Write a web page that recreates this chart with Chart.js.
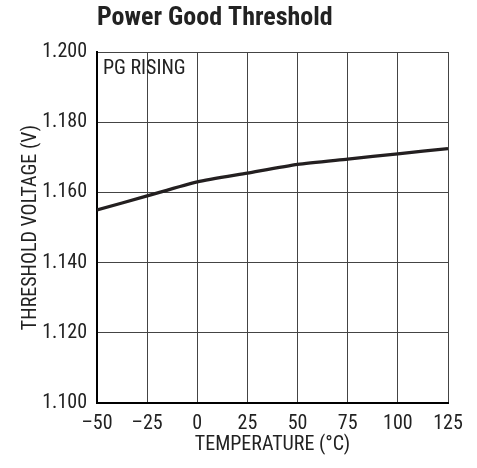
<!DOCTYPE html>
<html>
<head>
<meta charset="utf-8">
<script src="https://cdn.jsdelivr.net/npm/chart.js@4/dist/chart.umd.min.js"></script>
<style>
  html, body { margin: 0; padding: 0; background: #fff; }
  #wrap { width: 477px; height: 468px; position: relative; }
</style>
</head>
<body>
<div id="wrap"><canvas id="chart" width="477" height="468"></canvas></div>
<script>
const temps = [-50, -25, 0, 25, 50, 75, 100, 125];
const threshold = [1.155, 1.159, 1.163, 1.1655, 1.168, 1.1695, 1.171, 1.1725];
const xTicks = [-50, -25, 0, 25, 50, 75, 100, 125];
const yTicks = [1.100, 1.120, 1.140, 1.160, 1.180, 1.200];

const FONT = '"Liberation Sans Narrow", "Roboto Condensed", "Liberation Sans", sans-serif';

// title and PG RISING note, placed from the plot area
const notes = {
  id: 'notes',
  afterDraw(chart) {
    const { ctx, chartArea } = chart;
    ctx.save();
    ctx.fillStyle = '#222';
    ctx.textBaseline = 'middle';
    ctx.textAlign = 'left';
    ctx.font = 'bold 26px ' + FONT;
    ctx.fillText('Power Good Threshold', chartArea.left, 18);
    ctx.font = '20px ' + FONT;
    ctx.fillText('PG RISING', chartArea.left + 6, 69);
    ctx.restore();
  }
};

new Chart(document.getElementById('chart'), {
  type: 'line',
  data: {
    labels: temps,
    datasets: [{
      data: temps.map((t, i) => ({ x: t, y: threshold[i] })),
      borderColor: '#231f20',
      borderWidth: 3.2,
      pointRadius: 0,
      tension: 0.2,
      fill: false
    }]
  },
  options: {
    responsive: false,
    animation: false,
    layout: { padding: { top: 52, right: 29, left: 0, bottom: 0 } },
    plugins: { legend: { display: false }, tooltip: { enabled: false } },
    scales: {
      x: {
        type: 'linear',
        min: -50, max: 125,
        afterBuildTicks: s => { s.ticks = xTicks.map(v => ({ value: v })); },
        afterFit: s => { s.height = 65; },
        ticks: {
          color: '#222',
          font: { family: FONT, size: 20 },
          padding: 9,
          callback: v => String(v).replace('-', '\u2013')
        },
        grid: { color: '#444', lineWidth: 1, drawTicks: false },
        border: { color: '#000', width: 2 },
        title: { display: true, text: 'TEMPERATURE (\u00b0C)', color: '#222', font: { family: FONT, size: 20 }, padding: { top: 0, bottom: 11 } }
      },
      y: {
        min: 1.1, max: 1.2,
        afterBuildTicks: s => { s.ticks = yTicks.map(v => ({ value: v })); },
        afterFit: s => { s.width = 97; },
        ticks: {
          color: '#222',
          font: { family: FONT, size: 20 },
          padding: 10,
          callback: v => v.toFixed(3)
        },
        grid: { color: '#444', lineWidth: 1, drawTicks: false },
        border: { color: '#000', width: 2 },
        title: { display: true, text: 'THRESHOLD VOLTAGE (V)', color: '#222', font: { family: FONT, size: 20 }, padding: { top: 19, bottom: 0 } }
      }
    }
  },
  plugins: [notes]
});
</script>
</body>
</html>
